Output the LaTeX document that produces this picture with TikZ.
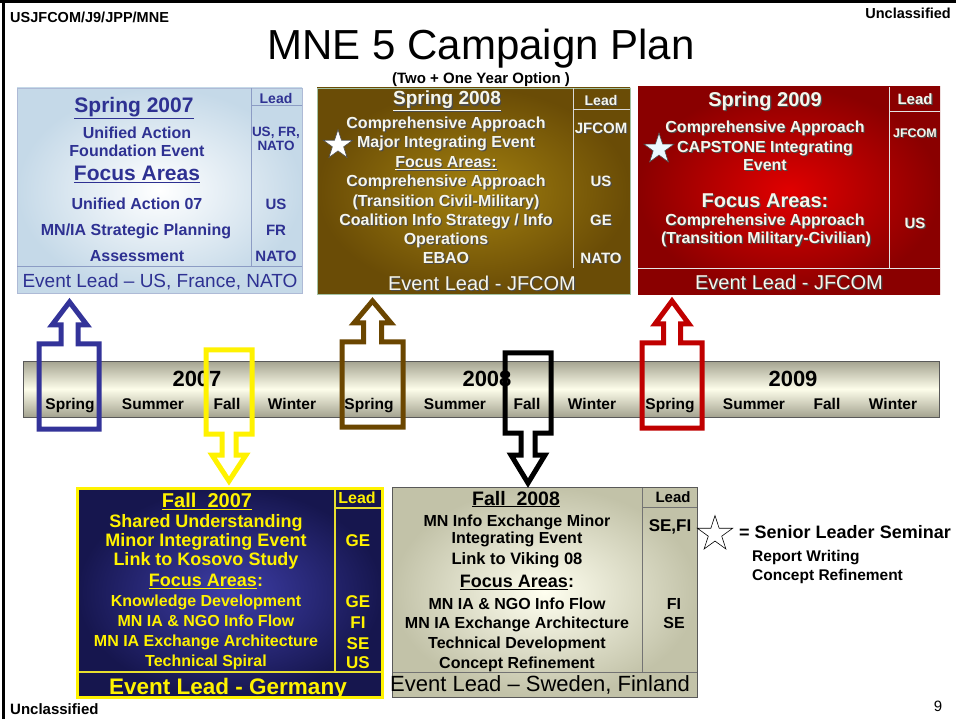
\documentclass[tikz,border=0pt]{standalone}
\usepackage{fontspec}
\setmainfont{Liberation Sans}
\usetikzlibrary{shapes.geometric}
\definecolor{bluetxt}{HTML}{2E3192}
\definecolor{boxAout}{HTML}{C5D9E8}
\definecolor{boxAline}{HTML}{8C9CC4}
\definecolor{boxBin}{HTML}{A2800F}
\definecolor{boxBout}{HTML}{6A4C06}
\definecolor{boxCin}{HTML}{E00000}
\definecolor{boxCout}{HTML}{8A0000}
\definecolor{boxDin}{HTML}{3E3EA8}
\definecolor{boxDout}{HTML}{16164E}
\definecolor{boxEin}{HTML}{FFFFF0}
\definecolor{boxEout}{HTML}{C2C2A8}
\definecolor{tlgrey}{HTML}{A4A390}
\definecolor{tlcream}{HTML}{FDFDEA}
\definecolor{arrblue}{HTML}{333399}
\definecolor{arrbrown}{HTML}{6B4600}
\definecolor{arrred}{HTML}{C00000}
\definecolor{lighttxt}{HTML}{F6F6EC}
\newcommand\shtx[1]{\leavevmode\rlap{\kern1.2pt\raisebox{-1.2pt}{\color{black!70}#1}}#1}
\begin{document}
\begin{tikzpicture}[x=1pt,y=-1pt,
  fb/.style={font=\bfseries\fontsize{#1}{#1}\selectfont,inner sep=0pt,anchor=base,yshift=-0.36*#1},
  fr/.style={font=\fontsize{#1}{#1}\selectfont,inner sep=0pt,anchor=base,yshift=-0.36*#1},
  blockarrow/.style={line width=5pt,line join=miter,miter limit=10},
  boxstar/.style={shape=star,star points=5,star point ratio=2.618,inner sep=0pt,minimum size=#1,draw=black!70,line width=0.6pt}
]
\useasboundingbox (0,0) rectangle (956,719);
\fill[white] (0,0) rectangle (956,719);
% frame
\draw[line width=3pt] (0,2) -- (956,2);
\draw[line width=3pt] (3,0) -- (3,719);

% header
\node[fb=14.5,anchor=base west] (hdrL) at (10,17) {USJFCOM/J9/JPP/MNE};
\node[fb=14.5,anchor=base east] (hdrR) at (951,13) {Unclassified};
\node[fr=42] (title) at (481,44) {MNE 5 Campaign Plan};
\node[fb=15] (option) at (481,78) {(Two + One Year Option )};

% ---------- Box A: Spring 2007 ----------
\shade[inner color=white,outer color=boxAout] (17,88) rectangle (302,293);
\draw[boxAline!70,line width=0.8pt] (17,88) rectangle (302,293);
\draw[boxAline,line width=1pt] (251,88) -- (251,267) (251,106) -- (302,106) (17,267) -- (302,267);
\begin{scope}[text=bluetxt]
\node[fb=21] (a1) at (134,105) {\underline{Spring 2007}};
\node[fb=14] (a2) at (276,98) {Lead};
\node[fb=16] (a3) at (137,133) {Unified Action};
\node[fb=16] (a4) at (137,151) {Foundation Event};
\node[fb=13.5] (a5) at (276,132) {US, FR,};
\node[fb=13.5] (a6) at (276,146) {NATO};
\node[fb=21] (a7) at (137,173) {\underline{Focus Areas}};
\node[fb=16] (a8) at (137,204) {Unified Action 07};
\node[fb=15] (a9) at (276,204) {US};
\node[fb=16] (a10) at (136,230) {MN/IA Strategic Planning};
\node[fb=15] (a11) at (276,230) {FR};
\node[fb=16] (a12) at (137,256) {Assessment};
\node[fb=15] (a13) at (276,256) {NATO};
\node[fr=19] (a14) at (160,281) {Event Lead -- US, France, NATO};
\end{scope}

% ---------- Box B: Spring 2008 ----------
\shade[inner color=boxBin,outer color=boxBout] (317,88) rectangle (630,294);
\draw[green!20!gray!60,line width=0.8pt] (317,88) rectangle (630,294);
\draw[white!85!black,line width=1pt] (573,88) -- (573,268) (573,110) -- (630,110);
\begin{scope}[text=lighttxt]
\node[fb=19] (b1) at (447,98) {\shtx{\underline{Spring 2008}}};
\node[fb=14] (b2) at (601,100) {\shtx{Lead}};
\node[fb=16] (b3) at (446,123) {\shtx{Comprehensive Approach}};
\node[fb=16] (b4) at (446,142) {\shtx{Major Integrating Event}};
\node[fb=16] (b5) at (446,162) {\shtx{\underline{Focus Areas:}}};
\node[fb=16] (b6) at (446,181) {\shtx{Comprehensive Approach}};
\node[fb=16] (b7) at (446,201) {\shtx{(Transition Civil-Military)}};
\node[fb=16] (b8) at (446,220) {\shtx{Coalition Info Strategy / Info}};
\node[fb=16] (b9) at (446,239) {\shtx{Operations}};
\node[fb=16] (b10) at (446,258) {\shtx{EBAO}};
\node[fb=15] (b11) at (601,128) {\shtx{JFCOM}};
\node[fb=15] (b12) at (601,181) {\shtx{US}};
\node[fb=15] (b13) at (601,220) {\shtx{GE}};
\node[fb=15] (b14) at (601,258) {\shtx{NATO}};
\node[fr=20] (b15) at (482,283) {\shtx{Event Lead - JFCOM}};
\end{scope}
\node[boxstar=31pt,fill=white] (bstar) at (338,145) {};

% ---------- Box C: Spring 2009 ----------
\shade[inner color=boxCin,outer color=boxCout] (638,87) rectangle (940,295);
\draw[white!90!black,line width=1pt] (889,87) -- (889,269) (889,112) -- (940,112) (638,269) -- (940,269);
\begin{scope}[text=lighttxt]
\node[fb=20] (c1) at (765,99) {\shtx{Spring 2009}};
\node[fb=15] (c2) at (915,99) {\shtx{Lead}};
\node[fb=16] (c3) at (765,127) {\shtx{Comprehensive Approach}};
\node[fb=16] (c4) at (765,147) {\shtx{CAPSTONE Integrating}};
\node[fb=16] (c5) at (765,165) {\shtx{Event}};
\node[fb=20] (c6) at (765,200) {\shtx{Focus Areas:}};
\node[fb=16] (c7) at (765,220) {\shtx{Comprehensive Approach}};
\node[fb=16] (c8) at (766,238) {\shtx{(Transition Military-Civilian)}};
\node[fb=12.5] (c9) at (915,133) {\shtx{JFCOM}};
\node[fb=15] (c10) at (915,223) {\shtx{US}};
\node[fr=20] (c11) at (789,282) {\shtx{Event Lead - JFCOM}};
\end{scope}
\node[boxstar=32pt,fill=cyan!8] (cstar) at (659,149) {};

% ---------- Timeline ----------
\shade[top color=tlgrey,bottom color=tlgrey,middle color=tlcream] (23,361) rectangle (939,417);
\draw[black!65,line width=1pt] (23,361) rectangle (939,417);
\node[fb=22] (y7) at (197,379) {2007};
\node[fb=22] (y8) at (487,379) {2008};
\node[fb=22] (y9) at (793,379) {2009};
\foreach \x/\s [count=\i] in {70/Spring,153/Summer,227/Fall,292/Winter,369/Spring,455/Summer,527/Fall,592/Winter,670/Spring,754/Summer,827/Fall,893/Winter}
  \node[fb=15.5] (s\i) at (\x,404) {\s};

% ---------- Box D: Fall 2007 ----------
\shade[inner color=boxDin,outer color=boxDout] (77,488) rectangle (382,697);
\draw[yellow!80!gray,line width=1.5pt] (335,488) -- (335,672) (335,508) -- (382,508) (77,672) -- (382,672);
\draw[yellow,line width=3pt] (77,488) rectangle (382,697);
\begin{scope}[text=yellow]
\node[fb=20] (d1) at (207,500) {\underline{Fall\ \ 2007}};
\node[fb=16] (d2) at (357,498) {Lead};
\node[fb=18] (d3) at (206,521) {Shared Understanding};
\node[fb=18] (d4) at (206,540) {Minor Integrating Event};
\node[fb=18] (d5) at (206,559) {Link to Kosovo Study};
\node[fb=18] (d6) at (206,580) {\underline{Focus Areas}:};
\node[fb=16] (d7) at (206,601) {Knowledge Development};
\node[fb=16] (d8) at (206,621) {MN IA \& NGO Info Flow};
\node[fb=16] (d9) at (206,641) {MN IA Exchange Architecture};
\node[fb=16] (d10) at (206,661) {Technical Spiral};
\node[fb=17] (d11) at (358,540) {GE};
\node[fb=17] (d12) at (358,601) {GE};
\node[fb=17] (d13) at (358,622) {FI};
\node[fb=17] (d14) at (358,643) {SE};
\node[fb=17] (d15) at (358,662) {US};
\node[fb=22.5] (d16) at (228,686) {Event Lead - Germany};
\end{scope}

% ---------- Box E: Fall 2008 ----------
\shade[inner color=boxEin,outer color=boxEout] (392,487) rectangle (697,697);
\draw[black!55,line width=1pt] (642,487) -- (642,672) (642,507) -- (697,507) (392,672) -- (697,672);
\draw[black!65,line width=1pt] (392,487) rectangle (697,697);
\node[fb=19.5] (e1) at (516,498) {\underline{Fall\ \ 2008}};
\node[fb=15] (e2) at (673,497) {Lead};
\node[fb=16] (e3) at (517,521) {MN Info Exchange Minor};
\node[fb=16] (e4) at (517,538) {Integrating Event};
\node[fb=16.5] (e5) at (517,559) {Link to Viking 08};
\node[fb=18] (e6) at (517,581) {\underline{Focus Areas}:};
\node[fb=16] (e7) at (517,604) {MN IA \& NGO Info Flow};
\node[fb=16] (e8) at (517,623) {MN IA Exchange Architecture};
\node[fb=16] (e9) at (517,643) {Technical Development};
\node[fb=16] (e10) at (517,663) {Concept Refinement};
\node[fb=17] (e11) at (670,525) {SE,FI};
\node[fb=16] (e12) at (674,604) {FI};
\node[fb=16] (e13) at (674,623) {SE};
\node[fr=22] (e14) at (540,684) {Event Lead -- Sweden, Finland};

% ---------- Block arrows ----------
\draw[blockarrow,draw=arrblue] (39,429) -- (99,429) -- (99,344) -- (78,344) -- (78,325) -- (87,325) -- (69.5,302) -- (52,325) -- (61,325) -- (61,344) -- (39,344) -- cycle;
\draw[blockarrow,draw=arrbrown] (342,427) -- (403,427) -- (403,342) -- (381.5,342) -- (381.5,323) -- (391,323) -- (372.5,301) -- (354,323) -- (363.5,323) -- (363.5,342) -- (342,342) -- cycle;
\draw[blockarrow,draw=arrred] (642,428) -- (702,428) -- (702,343) -- (680.5,343) -- (680.5,324) -- (689,324) -- (672,301) -- (655,324) -- (663.5,324) -- (663.5,343) -- (642,343) -- cycle;
\draw[blockarrow,draw=yellow] (206,350) -- (252,350) -- (252,434) -- (236,434) -- (236,455) -- (246,455) -- (229,481) -- (212,455) -- (222,455) -- (222,434) -- (206,434) -- cycle;
\draw[blockarrow,draw=black] (505,353) -- (551,353) -- (551,433) -- (535,433) -- (535,455) -- (545,455) -- (528,483) -- (511,455) -- (521,455) -- (521,433) -- (505,433) -- cycle;

% ---------- Legend ----------
\node[shape=star,star points=5,star point ratio=2.618,inner sep=0pt,minimum size=37pt,draw=black,line width=0.6pt] (lstar) at (715,534) {};
\node[fb=18,anchor=base west] (l1) at (739,532) {= Senior Leader Seminar};
\node[fb=15.5,anchor=base west] (l2) at (752,556) {Report Writing};
\node[fb=15.5,anchor=base west] (l3) at (752,575) {Concept Refinement};

% footer
\node[fb=15,anchor=base west] (ftL) at (10,709) {Unclassified};
\node[fr=15] (pg) at (938,706) {9};
\end{tikzpicture}
\end{document}
